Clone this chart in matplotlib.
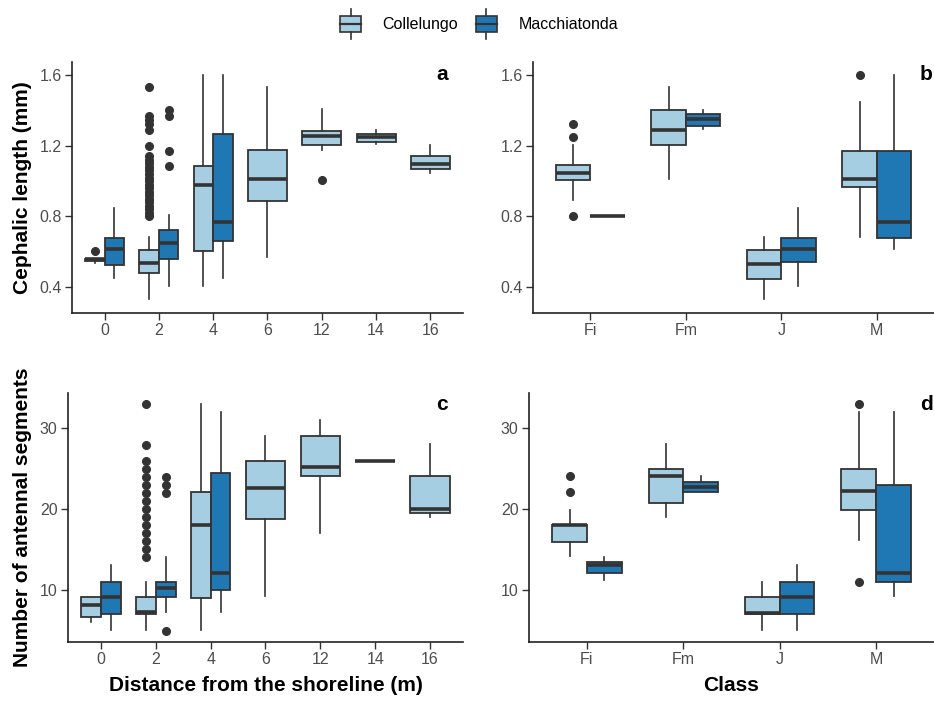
import matplotlib
matplotlib.use("Agg")
import matplotlib.pyplot as plt
from matplotlib.patches import Rectangle, Patch
from matplotlib.lines import Line2D
from matplotlib.legend_handler import HandlerBase

plt.rcParams['font.family'] = ['Liberation Sans', 'DejaVu Sans']

LIGHT = '#a6cee3'
DARK = '#1f78b4'
EDGE = '#333333'

dist_labels = ['0', '2', '4', '6', '12', '14', '16']
class_labels = ['Fi', 'Fm', 'J', 'M']

# --- a: cephalic length vs distance ---
col_a_q1 = [0.55, 0.483, 0.607, 0.888, 1.204, 1.223, 1.067]
col_a_med = [0.558, 0.536, 0.975, 1.01, 1.257, 1.246, 1.095]
col_a_q3 = [0.562, 0.611, 1.086, 1.178, 1.285, 1.267, 1.142]
col_a_lo = [0.535, 0.332, 0.41, 0.57, 1.176, 1.208, 1.048]
col_a_hi = [0.562, 0.683, 1.6, 1.53, 1.406, 1.289, 1.204]
col_a_out = [[0.605],
             [0.80, 0.82, 0.84, 0.86, 0.88, 0.90, 0.92, 0.94, 0.96, 0.98,
              1.00, 1.02, 1.04, 1.06, 1.08, 1.10, 1.12, 1.14,
              1.20, 1.29, 1.32, 1.345, 1.37, 1.53],
             [], [], [1.007], [], []]

mac_a_q1 = [0.526, 0.56, 0.662, None, None, None, None]
mac_a_med = [0.615, 0.652, 0.767, None, None, None, None]
mac_a_q3 = [0.681, 0.724, 1.267, None, None, None, None]
mac_a_lo = [0.451, 0.41, 0.451, None, None, None, None]
mac_a_hi = [0.846, 0.81, 1.6, None, None, None, None]
mac_a_out = [[], [1.087, 1.17, 1.365, 1.40], [], [], [], [], []]

# --- b: cephalic length vs class ---
col_b_q1 = [1.007, 1.203, 0.445, 0.969]
col_b_med = [1.048, 1.289, 0.53, 1.012]
col_b_q3 = [1.088, 1.402, 0.609, 1.171]
col_b_lo = [0.894, 1.01, 0.332, 0.686]
col_b_hi = [1.204, 1.53, 0.683, 1.449]
col_b_out = [[0.80, 1.248, 1.323], [], [], [1.6]]

mac_b_q1 = [0.80, 1.312, 0.545, 0.681]
mac_b_med = [0.80, 1.353, 0.615, 0.767]
mac_b_q3 = [0.80, 1.378, 0.681, 1.171]
mac_b_lo = [0.80, 1.293, 0.41, 0.615]
mac_b_hi = [0.80, 1.40, 0.846, 1.6]
mac_b_out = [[], [], [], []]

# --- c: antennal segments vs distance ---
col_c_q1 = [6.64, 7.0, 9.0, 18.7, 24.06, 26.0, 19.5]
col_c_med = [8.15, 7.2, 18.0, 22.6, 25.2, 26.0, 20.0]
col_c_q3 = [9.04, 9.04, 22.1, 26.0, 29.0, 26.0, 24.06]
col_c_lo = [5.95, 5.0, 5.0, 9.2, 17.05, 26.0, 19.07]
col_c_hi = [9.04, 11.0, 33.0, 29.1, 31.0, 26.0, 28.06]
col_c_out = [[],
             [14, 15, 16, 17, 18, 19, 20, 21, 22, 23, 24, 25, 26, 28, 33],
             [], [], [], [], []]

mac_c_q1 = [7.0, 9.04, 10.0, None, None, None, None]
mac_c_med = [9.13, 10.2, 12.1, None, None, None, None]
mac_c_q3 = [11.0, 11.0, 24.5, None, None, None, None]
mac_c_lo = [5.0, 7.2, 7.2, None, None, None, None]
mac_c_hi = [13.1, 14.0, 32.0, None, None, None, None]
mac_c_out = [[], [4.9, 22, 23, 24], [], [], [], [], []]

# --- d: antennal segments vs class ---
col_d_q1 = [15.9, 20.8, 7.03, 19.9]
col_d_med = [18.0, 24.1, 7.15, 22.2]
col_d_q3 = [18.04, 25.0, 9.05, 25.0]
col_d_lo = [14.2, 19.07, 5.0, 16.1]
col_d_hi = [19.9, 28.06, 11.0, 32.1]
col_d_out = [[22.1, 24.06], [], [], [11.0, 33.0]]

mac_d_q1 = [12.0, 22.1, 7.0, 11.0]
mac_d_med = [13.1, 22.7, 9.1, 12.1]
mac_d_q3 = [13.4, 23.3, 11.0, 23.0]
mac_d_lo = [11.2, 22.1, 5.0, 9.2]
mac_d_hi = [14.0, 24.06, 13.1, 32.0]
mac_d_out = [[], [], [], []]


def make_stats(q1, med, q3, lo, hi, out):
    stats = []
    for i in range(len(q1)):
        if q1[i] is None:
            stats.append(None)
        else:
            stats.append(dict(q1=q1[i], med=med[i], q3=q3[i],
                              whislo=lo[i], whishi=hi[i], fliers=out[i]))
    return stats


def draw_panel(ax, col, mac, width=0.72):
    for series, color, side in [(col, LIGHT, -1), (mac, DARK, 1)]:
        other = mac if side == -1 else col
        pos, sts, wid = [], [], []
        for i, s in enumerate(series):
            if s is None:
                continue
            if other[i] is None:
                pos.append(i)
                wid.append(width)
            else:
                pos.append(i + side * width / 4)
                wid.append(width / 2)
            sts.append(s)
        ax.bxp(sts, positions=pos, widths=wid, patch_artist=True,
               showcaps=False, manage_ticks=False,
               boxprops=dict(facecolor=color, edgecolor=EDGE, linewidth=1.3),
               medianprops=dict(color=EDGE, linewidth=2.6),
               whiskerprops=dict(color=EDGE, linewidth=1.2),
               flierprops=dict(marker='o', markerfacecolor=EDGE,
                               markeredgecolor=EDGE, markersize=5.5))


def style(ax, labels, yticks, fmt):
    ax.set_xticks(range(len(labels)))
    ax.set_xticklabels(labels)
    ax.set_xlim(-0.6, len(labels) - 0.4)
    ax.set_yticks(yticks)
    ax.set_yticklabels([fmt.format(v) for v in yticks])
    for s in ['top', 'right']:
        ax.spines[s].set_visible(False)
    for s in ['left', 'bottom']:
        ax.spines[s].set_linewidth(1.2)
        ax.spines[s].set_color('#222222')
    ax.tick_params(colors='#333333', labelcolor='#4d4d4d', labelsize=11.5,
                   length=5, width=1, pad=2.5)


fig = plt.figure(figsize=(9.34, 7.04), dpi=100)
ax_a = fig.add_axes([0.0771, 0.5554, 0.4186, 0.3565])
ax_b = fig.add_axes([0.5707, 0.5554, 0.4293, 0.3565])
ax_c = fig.add_axes([0.0728, 0.0881, 0.4229, 0.3537])
ax_d = fig.add_axes([0.5664, 0.0881, 0.4336, 0.3537])

draw_panel(ax_a, make_stats(col_a_q1, col_a_med, col_a_q3, col_a_lo, col_a_hi, col_a_out),
           make_stats(mac_a_q1, mac_a_med, mac_a_q3, mac_a_lo, mac_a_hi, mac_a_out))
draw_panel(ax_b, make_stats(col_b_q1, col_b_med, col_b_q3, col_b_lo, col_b_hi, col_b_out),
           make_stats(mac_b_q1, mac_b_med, mac_b_q3, mac_b_lo, mac_b_hi, mac_b_out))
draw_panel(ax_c, make_stats(col_c_q1, col_c_med, col_c_q3, col_c_lo, col_c_hi, col_c_out),
           make_stats(mac_c_q1, mac_c_med, mac_c_q3, mac_c_lo, mac_c_hi, mac_c_out))
draw_panel(ax_d, make_stats(col_d_q1, col_d_med, col_d_q3, col_d_lo, col_d_hi, col_d_out),
           make_stats(mac_d_q1, mac_d_med, mac_d_q3, mac_d_lo, mac_d_hi, mac_d_out))

style(ax_a, dist_labels, [0.4, 0.8, 1.2, 1.6], '{:.1f}')
style(ax_b, class_labels, [0.4, 0.8, 1.2, 1.6], '{:.1f}')
style(ax_c, dist_labels, [10, 20, 30], '{:d}')
style(ax_d, class_labels, [10, 20, 30], '{:d}')
for ax in (ax_a, ax_b):
    ax.set_ylim(0.255, 1.672)
for ax in (ax_c, ax_d):
    ax.set_ylim(3.5, 34.4)

ax_a.set_ylabel('Cephalic length (mm)', fontsize=15, fontweight='bold', labelpad=5)
ax_c.set_ylabel('Number of antennal segments', fontsize=15, fontweight='bold', labelpad=5.5)
ax_c.set_xlabel('Distance from the shoreline (m)', fontsize=15, fontweight='bold', labelpad=6.5)
ax_d.set_xlabel('Class', fontsize=15, fontweight='bold', labelpad=6.5)

for ax, letter, xf, yv in [(ax_a, 'a', 0.962, 1.6), (ax_b, 'b', 0.997, 1.6),
                           (ax_c, 'c', 0.962, 33), (ax_d, 'd', 0.997, 33)]:
    ax.text(xf, yv, letter, transform=ax.get_yaxis_transform(), ha='right',
            va='center', fontsize=15, fontweight='bold', color='black')


class BoxHandler(HandlerBase):
    def create_artists(self, legend, orig_handle, xdescent, ydescent,
                       width, height, fontsize, trans):
        x0, y0 = -xdescent, -ydescent
        fc = orig_handle.get_facecolor()
        rect = Rectangle((x0, y0), width, height,
                         facecolor=fc, edgecolor=EDGE, linewidth=1.2, transform=trans)
        med = Line2D([x0, x0 + width], [y0 + 0.5 * height] * 2,
                     color=EDGE, linewidth=1.6, transform=trans)
        w1 = Line2D([x0 + width / 2] * 2, [y0 - 0.4 * height, y0],
                    color=EDGE, linewidth=1.2, transform=trans)
        w2 = Line2D([x0 + width / 2] * 2, [y0 + height, y0 + 1.4 * height],
                    color=EDGE, linewidth=1.2, transform=trans)
        return [rect, med, w1, w2]


handles = [Patch(facecolor=LIGHT), Patch(facecolor=DARK)]
fig.legend(handles, ['Collelungo', 'Macchiatonda'], loc='upper center',
           bbox_to_anchor=(0.513, 0.998), ncol=2, frameon=False, fontsize=11.5,
           handler_map={Patch: BoxHandler()}, handlelength=1.3, handleheight=1.2,
           handletextpad=1.35, columnspacing=1.1)

fig.savefig('out.png', dpi=100)
